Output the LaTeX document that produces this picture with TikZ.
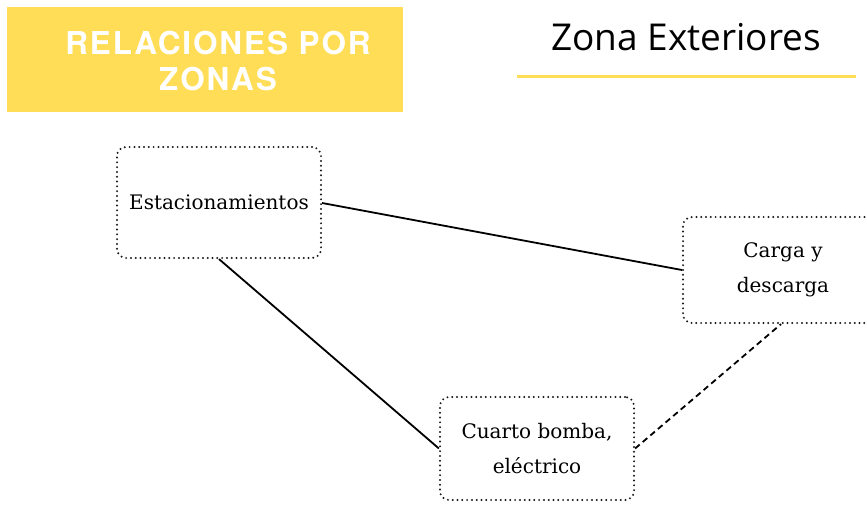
\documentclass[tikz,border=0pt]{standalone}
\usepackage{fontspec}
\setmainfont{DejaVu Serif}
\newfontfamily\titlefont[LetterSpace=6]{TeX Gyre Heros}
\newfontfamily\zonefont{Open Sans}
\definecolor{ylw}{HTML}{FFDD57}
\begin{document}
\begin{tikzpicture}[x=1pt,y=-1pt,
  zbox/.style={draw=black!90, line width=2.2pt, dash pattern=on 0pt off 4.8pt, line cap=round, rounded corners=9pt, minimum width=#1, align=center, inner sep=0pt, font=\fontsize{20}{35}\selectfont},
  link/.style={line width=1.8pt, black}]
\useasboundingbox (0,0) rectangle (867,505);
\fill[ylw] (7,7) rectangle (403,112);
\node[font=\titlefont\bfseries\fontsize{31.5}{36}\selectfont, text=white, align=center] (title) at (218,61) {RELACIONES POR\\ZONAS};
\node[font=\zonefont\fontsize{37}{40}\selectfont] (zone) at (686,37) {Zona Exteriores};
\draw[ylw, line width=3pt] (517,77) -- (856,77);
\begin{scope}
\clip (0,0) rectangle (867,505);
\node[zbox=204pt, minimum height=111pt] (est) at (219,202.5) {Estacionamientos};
\node[zbox=200pt, minimum height=106pt] (carga) at (783,270) {Carga y\\descarga};
\node[zbox=194pt, minimum height=103pt] (cuarto) at (537,448.5) {Cuarto bomba,\\eléctrico};
\end{scope}
\draw[link] (est.east |- 0,203) -- (carga.west);
\draw[link] (est.south) -- (cuarto.west);
\draw[link, dashed, dash pattern=on 6pt off 4pt] (cuarto.east) -- (carga.south -| 781,0);
\end{tikzpicture}
\end{document}
